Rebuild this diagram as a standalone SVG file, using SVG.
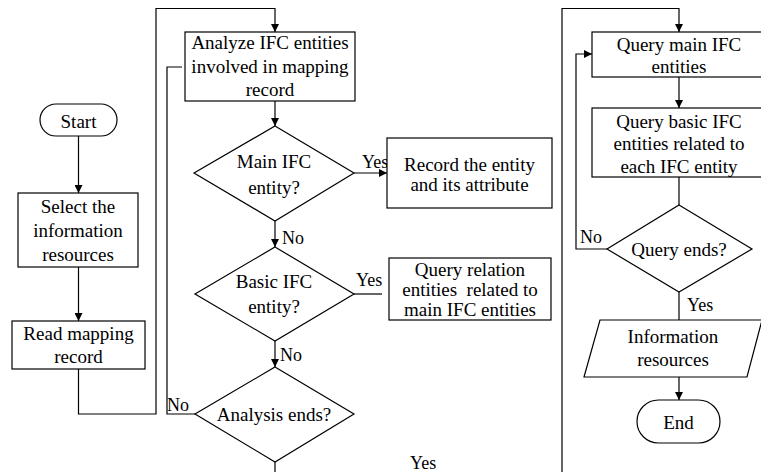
<svg xmlns="http://www.w3.org/2000/svg" width="761" height="472" viewBox="0 0 761 472" font-family="'Liberation Serif', 'Times New Roman', 'DejaVu Serif', serif">
<defs>
<marker id="ah" viewBox="0 0 10 10" refX="10" refY="5" markerWidth="8" markerHeight="8" markerUnits="userSpaceOnUse" orient="auto">
<path d="M0,0 L10,5 L0,10 z" fill="#000"/>
</marker>
<style>
.s{fill:#fff;stroke:#000;stroke-width:1.2}
.c{fill:none;stroke:#000;stroke-width:1.2}
.a{marker-end:url(#ah)}
text{font-family:'Liberation Serif','Times New Roman','DejaVu Serif',serif;font-size:19px;fill:#000}
.t{text-anchor:middle}
.l{font-size:18px}
</style>
</defs>
<rect width="761" height="472" fill="#fff"/>
<g id="connectors">
<path class="c a" d="M78.5,136 V193"/>
<path class="c a" d="M78.5,267 V321"/>
<path class="c a" d="M78.5,369 V414 H156 V8.5 H275 V32"/>
<path class="c a" d="M275,101 V126"/>
<path class="c a" d="M354,173 H387"/>
<path class="c a" d="M275,221 V247"/>
<path class="c" d="M354,294 H382"/>
<path class="c a" d="M275,341 V367"/>
<path class="c" d="M195,414 H167 V67 H182"/>
<path class="c a" d="M275,462 V476 H562 V8.5 H679 V32"/>
<path class="c a" d="M679,77 V108"/>
<path class="c" d="M679,177 V205"/>
<path class="c a" d="M607,249 H576 V54 H592"/>
<path class="c" d="M679,292 V320"/>
<path class="c a" d="M679,377 V400"/>
<text class="l" x="362" y="168">Yes</text>
<text class="l" x="282" y="244">No</text>
<text class="l" x="356" y="286">Yes</text>
<text class="l" x="280" y="361">No</text>
<text class="l" x="167" y="411">No</text>
<text class="l" x="410" y="469">Yes</text>
<text class="l" x="580" y="243">No</text>
<text class="l" x="687" y="311">Yes</text>
</g>
<g id="start">
<rect class="s" x="40" y="104" width="77" height="32" rx="16"/>
<text class="t" x="78.5" y="128">Start</text>
</g>
<g id="select">
<rect class="s" x="18" y="193" width="120" height="74"/>
<text class="t" x="78" y="213">Select the</text>
<text class="t" x="78" y="237">information</text>
<text class="t" x="78" y="261">resources</text>
</g>
<g id="read">
<rect class="s" x="12" y="321" width="133" height="48"/>
<text class="t" x="78.5" y="340">Read mapping</text>
<text class="t" x="78.5" y="363">record</text>
</g>
<g id="analyze">
<rect class="s" x="185" y="32" width="170" height="69"/>
<text class="t" x="270" y="49">Analyze IFC entities</text>
<text class="t" x="270" y="73">involved in mapping</text>
<text class="t" x="270" y="96">record</text>
</g>
<g id="main">
<polygon class="s" points="275,126 354,173 275,221 194,173"/>
<text class="t" x="274" y="168">Main IFC</text>
<text class="t" x="274" y="194">entity?</text>
</g>
<g id="record">
<rect class="s" x="387" y="138" width="165" height="70"/>
<text class="t" x="469.5" y="171">Record the entity</text>
<text class="t" x="469.5" y="191">and its attribute</text>
</g>
<g id="basic">
<polygon class="s" points="275,247 354,294 275,341 195,294"/>
<text class="t" x="274" y="288">Basic IFC</text>
<text class="t" x="274" y="313">entity?</text>
</g>
<g id="queryrel">
<rect class="s" x="389" y="258" width="162" height="62"/>
<text class="t" x="470" y="276">Query relation</text>
<text class="t" x="470" y="296" xml:space="preserve">entities  related to</text>
<text class="t" x="470" y="316">main IFC entities</text>
</g>
<g id="analysisends">
<polygon class="s" points="275,367 354,414 275,462 195,414"/>
<text class="t" x="274" y="421">Analysis ends?</text>
</g>
<g id="querymain">
<rect class="s" x="592" y="32" width="174" height="45"/>
<text class="t" x="679" y="51">Query main IFC</text>
<text class="t" x="679" y="73">entities</text>
</g>
<g id="querybasic">
<rect class="s" x="592" y="108" width="174" height="69"/>
<text class="t" x="679" y="128">Query basic IFC</text>
<text class="t" x="679" y="150">entities related to</text>
<text class="t" x="679" y="173">each IFC entity</text>
</g>
<g id="queryends">
<polygon class="s" points="679,205 752,249 679,292 607,249"/>
<text class="t" x="679" y="256">Query ends?</text>
</g>
<g id="info">
<polygon class="s" points="600,320 762,320 747,377 584,377"/>
<text class="t" x="673" y="343">Information</text>
<text class="t" x="673" y="366">resources</text>
</g>
<g id="end">
<rect class="s" x="637" y="400" width="83" height="43" rx="21.5"/>
<text class="t" x="678.5" y="429">End</text>
</g>
</svg>
